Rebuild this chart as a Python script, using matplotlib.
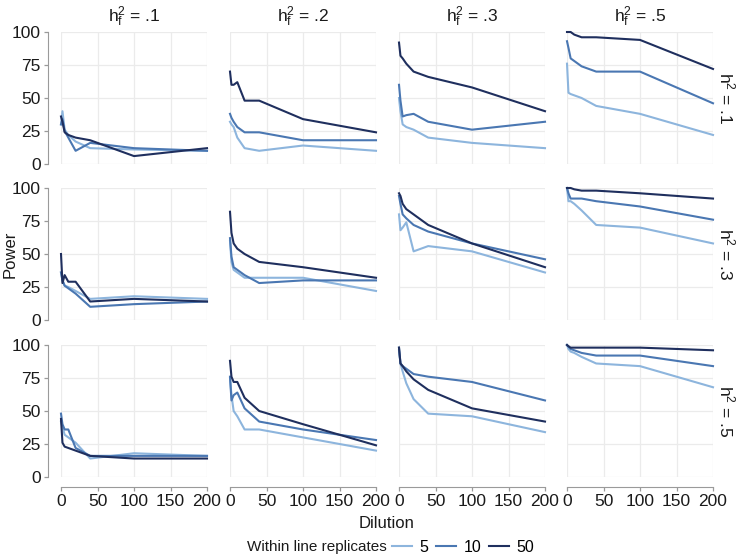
import numpy as np
import matplotlib
matplotlib.use("Agg")
import matplotlib.pyplot as plt
from matplotlib.lines import Line2D

plt.rcParams['font.family'] = ['Liberation Sans', 'DejaVu Sans']

dilution = [0, 2, 5, 10, 20, 40, 100, 200]
hf_labels = ['.1', '.2', '.3', '.5']
h2_labels = ['.1', '.3', '.5']
replicates = ['5', '10', '50']
colors = ['#8db5dd', '#4a77b2', '#1f2f5e']

# power[row = h2][col = hf]
power_5 = [
    [[30, 40, 26, 22, 17, 12, 11, 10],
     [32, 30, 28, 20, 12, 10, 14, 10],
     [50, 40, 30, 28, 26, 20, 16, 12],
     [76, 54, 53, 52, 50, 44, 38, 22]],
    [[36, 30, 26, 25, 22, 16, 18, 16],
     [60, 44, 38, 36, 32, 32, 32, 22],
     [80, 68, 70, 74, 52, 56, 52, 36],
     [100, 90, 90, 88, 83, 72, 70, 58]],
    [[42, 38, 32, 30, 26, 14, 18, 16],
     [75, 62, 50, 46, 36, 36, 30, 20],
     [96, 86, 80, 71, 59, 48, 46, 34],
     [100, 97, 95, 94, 91, 86, 84, 68]],
]
power_10 = [
    [[30, 34, 25, 20, 10, 16, 12, 10],
     [38, 35, 32, 28, 24, 24, 18, 18],
     [60, 48, 36, 37, 38, 32, 26, 32],
     [93, 88, 80, 78, 74, 70, 70, 46]],
    [[36, 30, 26, 24, 20, 10, 12, 14],
     [62, 48, 40, 38, 34, 28, 30, 30],
     [94, 88, 80, 77, 72, 67, 58, 46],
     [100, 96, 92, 92, 92, 90, 86, 76]],
    [[48, 40, 36, 36, 22, 16, 16, 16],
     [76, 58, 62, 64, 52, 42, 36, 28],
     [98, 86, 84, 82, 78, 76, 72, 58],
     [100, 99, 97, 96, 94, 92, 92, 84]],
]
power_50 = [
    [[36, 32, 24, 22, 20, 18, 6, 12],
     [70, 60, 60, 62, 48, 48, 34, 24],
     [92, 82, 80, 76, 70, 66, 58, 40],
     [100, 100, 100, 98, 96, 96, 94, 72]],
    [[50, 28, 34, 29, 29, 14, 16, 14],
     [82, 66, 58, 54, 50, 44, 40, 32],
     [96, 94, 88, 84, 80, 72, 58, 40],
     [100, 100, 100, 99, 98, 98, 96, 92]],
    [[44, 26, 23, 22, 20, 16, 14, 14],
     [88, 76, 72, 72, 60, 50, 40, 24],
     [98, 86, 84, 80, 74, 66, 52, 42],
     [100, 99, 98, 98, 98, 98, 98, 96]],
]
series = [power_5, power_10, power_50]

W, H = 740, 556
fig = plt.figure(figsize=(W / 100, H / 100), dpi=100)

col_left = [61, 230, 399, 567]
row_top = [32, 188, 345]
pw, ph = 146, 132
grey = '#9a9a9a'
txt = '#1a1a1a'

for r in range(3):
    for c in range(4):
        ax = fig.add_axes([col_left[c] / W, 1 - (row_top[r] + ph) / H, pw / W, ph / H])
        for k in range(3):
            ax.plot(dilution, series[k][r][c], color=colors[k], lw=1.5,
                    solid_joinstyle='round', clip_on=False, zorder=3)
        ax.set_xlim(0, 200)
        ax.set_ylim(0, 100)
        ax.set_xticks([0, 50, 100, 150, 200])
        ax.set_yticks([0, 25, 50, 75, 100])
        ax.grid(True, color='#ebebeb', lw=0.9)
        ax.set_axisbelow(True)
        for s in ['top', 'right']:
            ax.spines[s].set_visible(False)
        # offsets are in points (13 px and 10 px)
        ax.spines['left'].set_position(('outward', 9.4))
        ax.spines['bottom'].set_position(('outward', 7.2))
        ax.spines['left'].set_color(grey)
        ax.spines['bottom'].set_color(grey)
        ax.tick_params(colors=grey, labelcolor=txt, labelsize=12.5, length=3, width=0.9, pad=2)
        if c != 0:
            ax.spines['left'].set_visible(False)
            ax.tick_params(axis='y', left=False, labelleft=False)
        if r != 2:
            ax.spines['bottom'].set_visible(False)
            ax.tick_params(axis='x', bottom=False, labelbottom=False)
        if r == 0:
            ax.set_title(r'$\mathregular{h_f^2}$ = ' + hf_labels[c], fontsize=12.5, pad=7, color=txt)
        if c == 3:
            ax.text(1.025, 0.5, r'$\mathregular{h^2}$ = ' + h2_labels[r], transform=ax.transAxes,
                    rotation=270, va='center', ha='left', fontsize=12.5, color=txt)

fig.text(387 / W, 1 - 523 / H, 'Dilution', ha='center', va='center', fontsize=12, color=txt)
fig.text(10 / W, 1 - 254 / H, 'Power', ha='center', va='center', rotation=90, fontsize=12, color=txt)

fig.text(247 / W, 1 - 547 / H, 'Within line replicates', ha='left', va='center', fontsize=11, color=txt)
handles = [Line2D([], [], color=colors[k], lw=1.5) for k in range(3)]
fig.legend(handles, replicates, loc='center left', bbox_to_anchor=(389 / W, 1 - 547 / H),
           ncol=3, frameon=False, fontsize=11.5, handlelength=1.25, handletextpad=0.45,
           columnspacing=0.5, borderaxespad=0, borderpad=0.2)

fig.savefig('out.png', dpi=100, facecolor='white')
